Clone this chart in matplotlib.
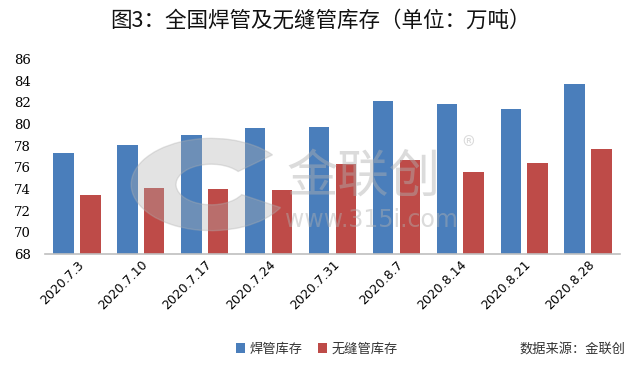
import matplotlib
matplotlib.use("Agg")
import matplotlib.pyplot as plt
import numpy as np

plt.rcParams['font.family'] = ['Noto Sans CJK SC', 'DejaVu Sans']

categories = ["2020.7.3", "2020.7.10", "2020.7.17", "2020.7.24", "2020.7.31",
              "2020.8.7", "2020.8.14", "2020.8.21", "2020.8.28"]
welded = [77.3, 78.1, 79.0, 79.6, 79.7, 82.1, 81.8, 81.4, 83.7]
seamless = [73.4, 74.1, 74.0, 73.9, 76.3, 76.7, 75.6, 76.4, 77.7]
series_names = ["焊管库存", "无缝管库存"]
yticks = [68, 70, 72, 74, 76, 78, 80, 82, 84, 86]
title = "图3：全国焊管及无缝管库存（单位：万吨）"
source = "数据来源：金联创"

blue = "#4A7EBB"
red = "#BE4B48"

fig = plt.figure(figsize=(6.4, 3.69), dpi=100)
ax = fig.add_axes([0.0703, 0.3117, 0.8984, 0.5284])

x = np.arange(len(categories))
w = 0.32
ax.bar(x - 0.21, np.array(welded) - 68, w, bottom=68, color=blue, label=series_names[0], zorder=2)
ax.bar(x + 0.21, np.array(seamless) - 68, w, bottom=68, color=red, label=series_names[1], zorder=2)

ax.set_xlim(-0.5, len(categories) - 0.5)
ax.set_ylim(68, 86)
ax.set_yticks(yticks)
ax.set_yticklabels([str(v) for v in yticks], fontsize=9.5, family=['DejaVu Serif'])
ax.set_xticks(x)
ax.set_xticklabels(categories, rotation=45, ha='right', va='top', rotation_mode='anchor',
                   fontsize=9, family=['DejaVu Sans'])
ax.tick_params(axis='both', length=0, pad=3)
ax.tick_params(axis='y', pad=10)
for s in ['top', 'right', 'left']:
    ax.spines[s].set_visible(False)
ax.spines['bottom'].set_color('#BFBFBF')
ax.spines['bottom'].set_linewidth(1.2)

fig.text(0.5, 0.945, title, ha='center', va='center', fontsize=15.5, color='#111111')

leg = fig.legend(loc='center', bbox_to_anchor=(0.495, 0.054), ncol=2, frameon=False,
                 fontsize=9.5, handlelength=0.7, handleheight=0.7, handletextpad=0.3,
                 columnspacing=1.2)
for t in leg.get_texts():
    t.set_color('#333333')
fig.text(0.977, 0.054, source, ha='right', va='center', fontsize=9.5, color='#333333')

# watermark
fig.text(0.447, 0.52, "金联创", fontsize=37, color='#B0B0B0', alpha=0.45, ha='left', va='center')
fig.text(0.722, 0.6, "®", fontsize=18, color='#B0B0B0', alpha=0.45, ha='left', va='center')
fig.text(0.445, 0.405, "www.315i.com", fontsize=17, color='#B0B0B0', alpha=0.45, ha='left', va='center',
         family=['DejaVu Sans'])
circ = matplotlib.patches.Wedge((0.33, 0.5), 0.125, 40, 330, width=0.07, transform=fig.transFigure,
                                color='#B0B0B0', alpha=0.35)
fig.patches.append(circ)

fig.savefig("out.png", dpi=100)
